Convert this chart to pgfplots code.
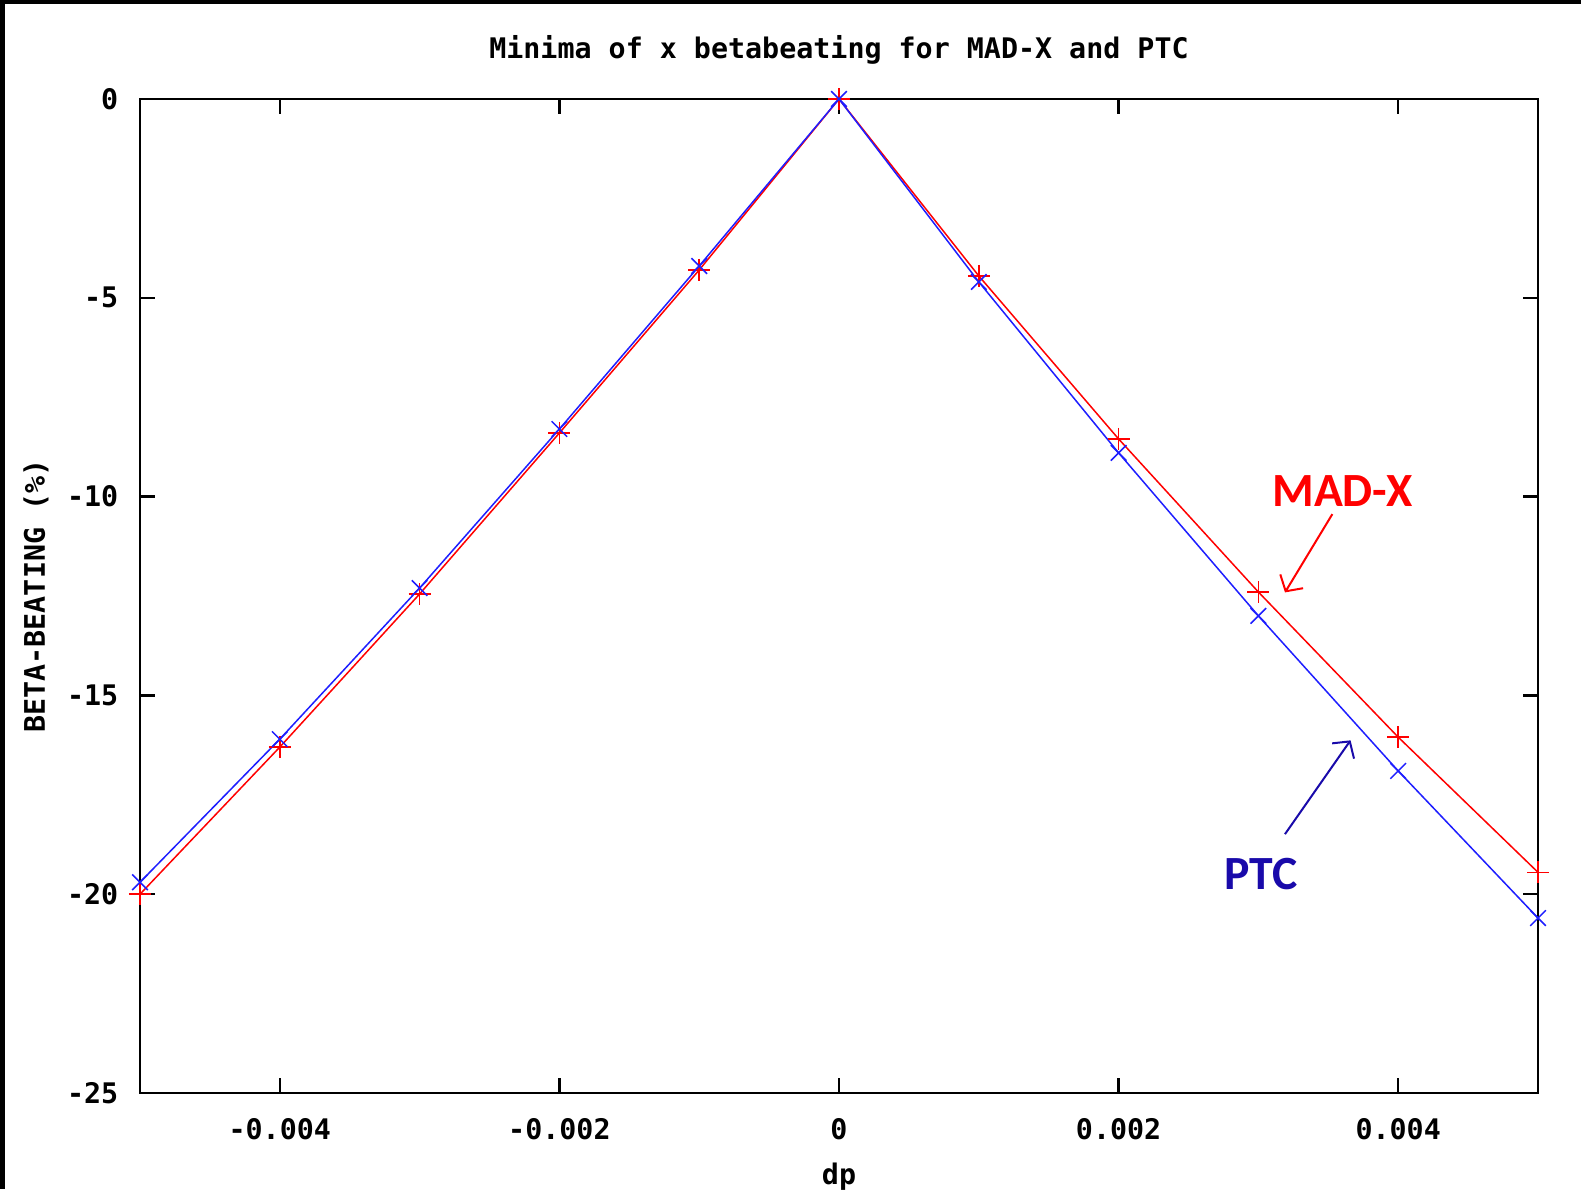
\documentclass[border=0pt]{standalone}
\usepackage{fontspec}
\setmonofont{DejaVu Sans Mono}
\newfontfamily\calib{Carlito}
\usepackage{pgfplots}
\usepackage{pgfplotstable}
\usetikzlibrary{arrows.meta}
\pgfplotsset{compat=1.18}
\definecolor{madx}{RGB}{255,0,0}
\definecolor{ptcline}{RGB}{30,30,255}
\definecolor{ptctext}{RGB}{25,10,170}

% minima of x beta-beating (%) vs dp
\pgfplotstableread{
dp      madx    ptc
-0.005  -20.0   -19.7
-0.004  -16.3   -16.1
-0.003  -12.45  -12.3
-0.002  -8.4    -8.3
-0.001  -4.3    -4.2
0        0.0     0.0
0.001   -4.45   -4.6
0.002   -8.55   -8.9
0.003   -12.4   -13.0
0.004   -16.05  -16.9
0.005   -19.45  -20.6
}\betadata

\newcommand{\gpfont}{\fontsize{8.5}{10}\selectfont\ttfamily\bfseries}

\begin{document}
\begin{tikzpicture}
\begin{axis}[
  scale only axis,
  width=419.4pt, height=298.2pt,
  xmin=-0.005, xmax=0.005, ymin=-25, ymax=0,
  scaled x ticks=false,
  xtick={-0.004,-0.002,0,0.002,0.004},
  xticklabels={-0.004,-0.002,0,0.002,0.004},
  ytick={-25,-20,-15,-10,-5,0},
  yticklabels={-25,-20,-15,-10,-5,0},
  tick pos=both, tick align=inside,
  major tick length=4.5pt,
  axis line style={line width=0.7pt},
  every tick/.style={black, line width=0.7pt},
  ticklabel style={font=\gpfont},
  xticklabel style={yshift=-4pt},
  yticklabel style={xshift=-3pt},
  title={Minima of x betabeating for MAD-X and PTC},
  title style={font=\gpfont, at={(axis description cs:0.5,1)}, anchor=center, yshift=8.7pt},
  xlabel={dp},
  xlabel style={font=\gpfont, at={(axis description cs:0.5,0)}, anchor=center, yshift=-25pt},
  ylabel={BETA-BEATING (\%)},
  ylabel style={font=\gpfont, at={(axis description cs:0,0.5)}, anchor=center, yshift=31.2pt},
  clip=false,
]
\addplot[color=madx, line width=0.45pt, mark=+, mark size=3.3pt]
  table[x=dp, y=madx] {\betadata};
\addplot[color=ptcline, line width=0.45pt, mark=x, mark size=3.3pt]
  table[x=dp, y=ptc] {\betadata};

\node[font=\calib\bfseries\fontsize{14.3}{16}\selectfont, text=madx] at (axis cs:0.003601,-9.85) {MAD-X};
\draw[madx, line width=0.6pt, -{Straight Barb[length=3.5pt,width=8pt]}] (axis cs:0.003529,-10.44) -- (axis cs:0.003190,-12.41);
\node[font=\calib\bfseries\fontsize{14.3}{16}\selectfont, text=ptctext] at (axis cs:0.003017,-19.50) {PTC};
\draw[ptctext, line width=0.6pt, -{Straight Barb[length=3.5pt,width=8pt]}] (axis cs:0.00319,-18.49) -- (axis cs:0.003659,-16.13);

\coordinate (sw) at (rel axis cs:0,0);
\coordinate (ne) at (rel axis cs:1,1);
\end{axis}
\pgfresetboundingbox
\coordinate (bl) at ([xshift=-42pt,yshift=-28.8pt]sw);
\coordinate (tr) at ([xshift=12.9pt,yshift=29.7pt]ne);
\path (bl) rectangle (tr);
\fill[black] ([yshift=-1.2pt]bl |- tr) rectangle (tr);
\fill[black] (bl) rectangle ([xshift=1.4pt]bl |- tr);
\end{tikzpicture}
\end{document}
